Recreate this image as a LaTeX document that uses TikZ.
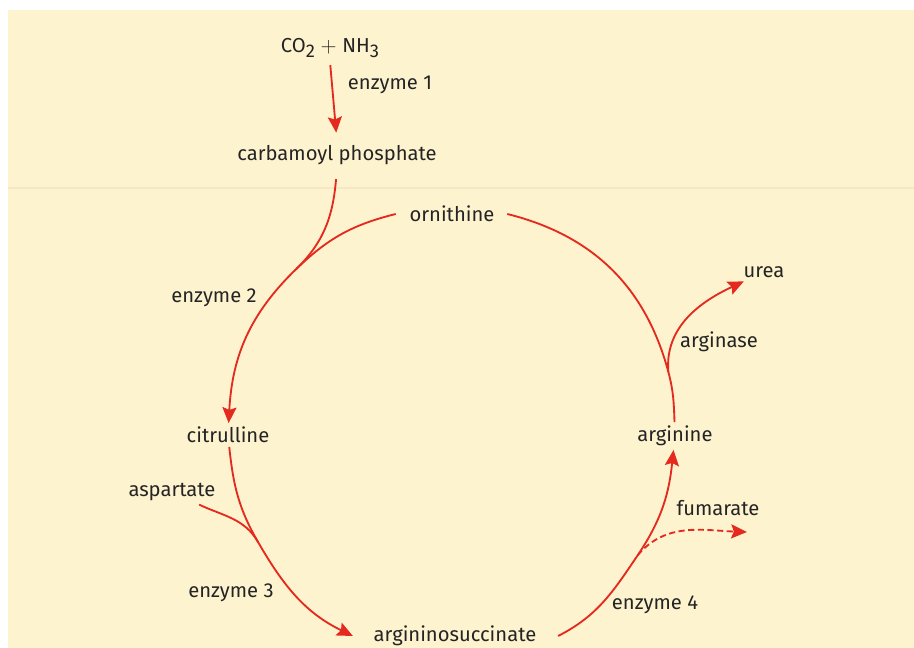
\documentclass[tikz,border=0pt]{standalone}
\usepackage{fontspec}
\setmainfont{Fira Sans}
\usetikzlibrary{arrows.meta,calc}
\definecolor{pagebg}{RGB}{254,243,207}
\definecolor{pagerule}{RGB}{246,232,198}
\definecolor{cyclered}{RGB}{228,42,30}
\definecolor{labelgray}{RGB}{36,36,36}
\newcommand{\lowsub}[1]{\raisebox{-0.5ex}{\fontsize{10.5}{12}\selectfont #1}}

\begin{document}
\begin{tikzpicture}[x=0.02cm, y=0.02cm, every node/.style={font=\fontsize{11.5}{13}\selectfont, text=labelgray, inner sep=2pt}, link/.style={cyclered, line width=1.05pt}, arrow/.style={link, -{Stealth[length=9pt,width=8pt,inset=1.5pt]}}, dasharrow/.style={arrow, dash pattern=on 3.5pt off 2pt}]
\useasboundingbox (0,0) rectangle (914,648);
\fill[pagebg] (8,0) rectangle (914,638);
\draw[pagerule, line width=1.2pt] (8,460) -- (914,460);
% points on the cycle where side branches join
\coordinate (hub) at (452,218);
\coordinate (j2) at ($(hub)+(134:224)$);
\coordinate (j3) at ($(hub)+(210:224)$);
\coordinate (fj) at ($(hub)+(326:224)$);
\coordinate (sp) at ($(hub)+(15:224)$);
\coordinate (fumend) at (747,116);
\node (co2) at (330,600) {CO\lowsub{2}\;$+$\;NH\lowsub{3}};
\node (enz1) at (390,563) {enzyme 1};
\node (carb) at (337,493) {carbamoyl phosphate};
\node (orn) at (452,434) {ornithine};
\node (enz2) at (214,350) {enzyme 2};
\node (cit) at (228,213) {citrulline};
\node (asp) at (172,156) {aspartate};
\node (enz3) at (231,55) {enzyme 3};
\node (argsuc) at (455,12) {argininosuccinate};
\node (enz4) at (655,43) {enzyme 4};
\node (fum) at (718,140) {fumarate};
\node (argn) at (675,212) {arginine};
\node (argase) at (719,306) {arginase};
\node (urea) at (764,376) {urea};
\draw[arrow, shorten <=2pt, shorten >=5pt] (co2.south) -- (carb.north);
\draw[link, shorten <=6pt] (carb.south) to[out=-95, in=44] (j2);
\draw[arrow] ([xshift=-0.2cm]orn.west) to[out=194, in=44] (j2) to[out=224, in=87] (cit);
\draw[link] (asp) to[out=-25, in=120] (j3);
\draw[arrow] (cit) to[out=276, in=120] (j3) to[out=300, in=154] ([xshift=-0.34cm]argsuc.west);
\draw[arrow] ([xshift=0.36cm]argsuc.east) to[out=27, in=236] (fj) to[out=56, in=264] (argn);
\draw[dasharrow] (fj) to[out=50, in=178] (fumend);
\draw[link] (argn) to[out=92, in=285] (sp) to[out=105, in=346] ([xshift=0.18cm]orn.east);
\draw[arrow] (sp) to[out=95, in=205] (urea);
\end{tikzpicture}
\end{document}
